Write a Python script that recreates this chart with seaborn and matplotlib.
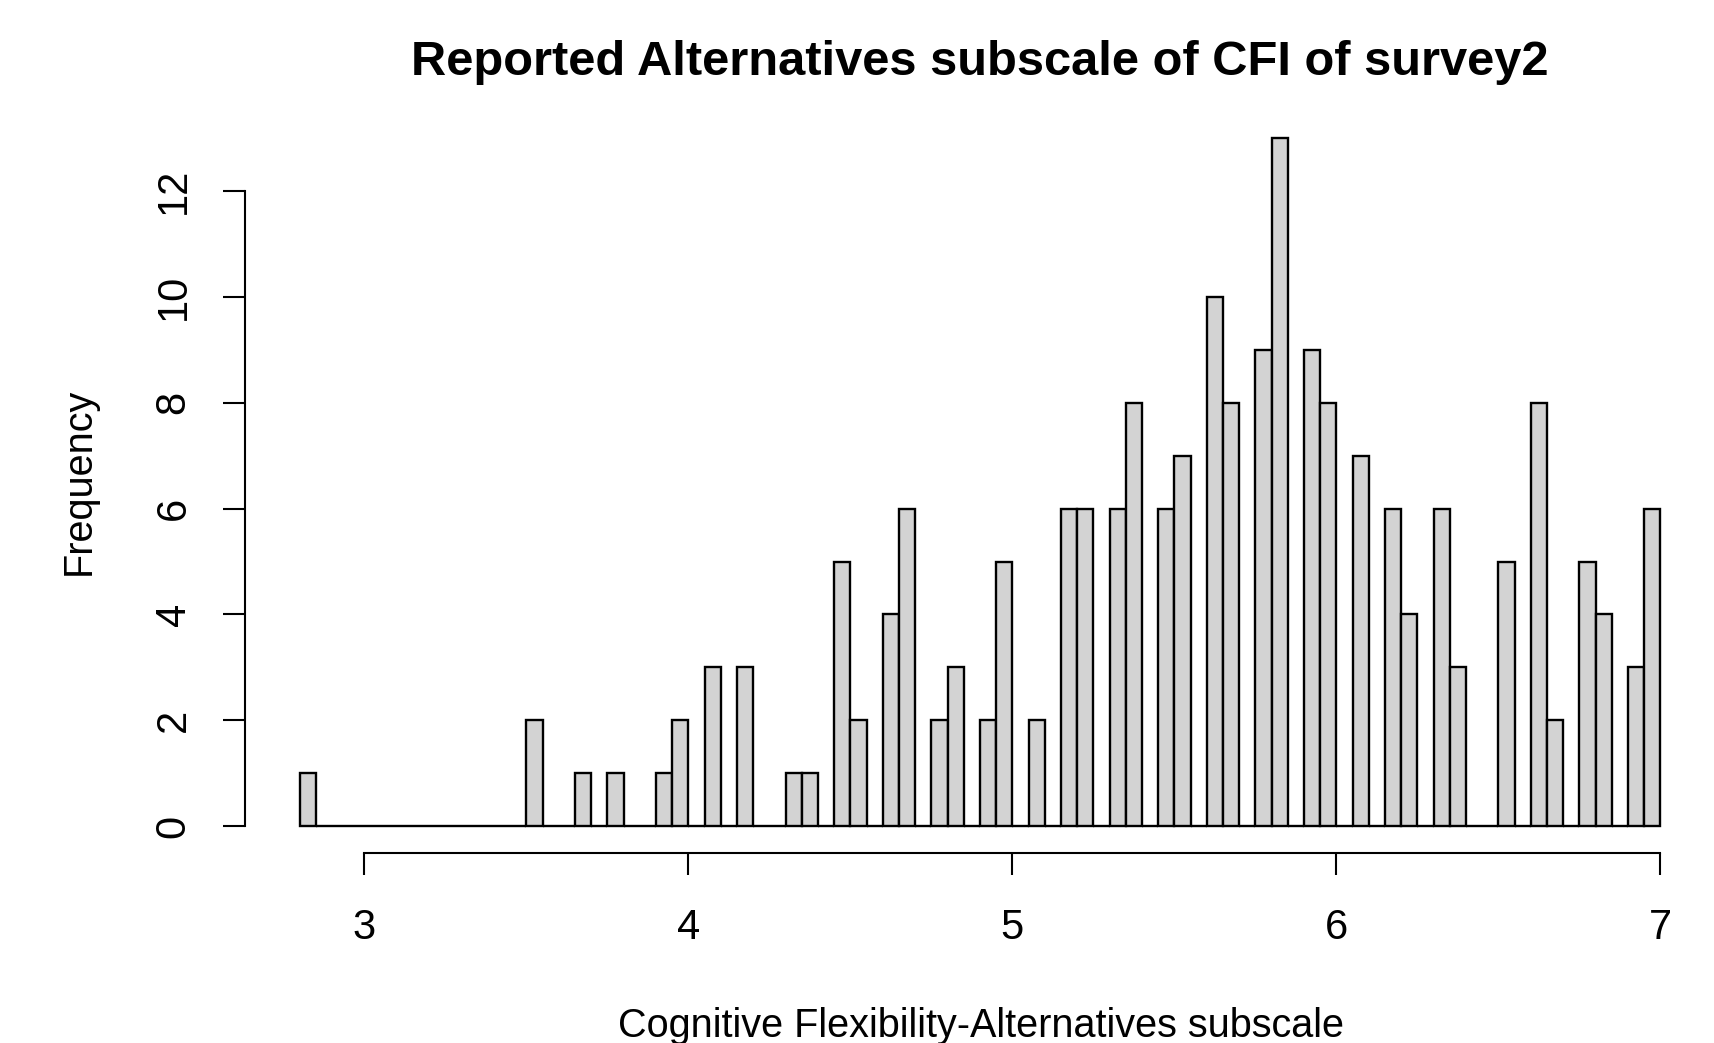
"""Histogram of the CFI Alternatives subscale (survey2), drawn R-style with seaborn."""
import matplotlib
matplotlib.use("Agg")
import matplotlib.pyplot as plt
import numpy as np
import pandas as pd
import seaborn as sns

# bins of width 0.05 from 2.80 to 7.00 (84 bins)
BREAKS = [round(2.80 + 0.05 * i, 2) for i in range(85)]

# counts per bin
COUNTS = [
    1, 0, 0, 0, 0, 0, 0, 0, 0, 0,   # 2.80 - 3.30
    0, 0, 0, 0, 2, 0, 0, 1, 0, 1,   # 3.30 - 3.80
    0, 0, 1, 2, 0, 3, 0, 3, 0, 0,   # 3.80 - 4.30
    1, 1, 0, 5, 2, 0, 4, 6, 0, 2,   # 4.30 - 4.80
    3, 0, 2, 5, 0, 2, 0, 6, 6, 0,   # 4.80 - 5.30
    6, 8, 0, 6, 7, 0, 10, 8, 0, 9,  # 5.30 - 5.80
    13, 0, 9, 8, 0, 7, 0, 6, 4, 0,  # 5.80 - 6.30
    6, 3, 0, 0, 5, 0, 8, 2, 0, 5,   # 6.30 - 6.80
    4, 0, 3, 6,                     # 6.80 - 7.00
]

X_TICKS = [3, 4, 5, 6, 7]
Y_TICKS = [0, 2, 4, 6, 8, 10, 12]

TITLE = "Reported Alternatives subscale of CFI of survey2"
X_LABEL = "Cognitive Flexibility-Alternatives subscale"
Y_LABEL = "Frequency"


def main():
    sns.set_theme(style="ticks")
    plt.rcParams["font.family"] = ["Liberation Sans", "DejaVu Sans"]
    plt.rcParams["axes.edgecolor"] = "black"
    plt.rcParams["text.color"] = "black"
    plt.rcParams["axes.labelcolor"] = "black"
    plt.rcParams["xtick.color"] = "black"
    plt.rcParams["ytick.color"] = "black"

    edges = np.array(BREAKS)
    df = pd.DataFrame({"mid": (edges[:-1] + edges[1:]) / 2, "n": COUNTS})

    fig = plt.figure(figsize=(17.15, 10.43), dpi=100)
    ax = fig.add_axes([0.1429, 0.1817, 0.857, 0.712])

    sns.histplot(
        data=df, x="mid", weights="n", bins=BREAKS, ax=ax,
        color="#d3d3d3", edgecolor="black", linewidth=1.7, alpha=1,
    )

    # R pads the range by 4% on each side
    xr = BREAKS[-1] - BREAKS[0]
    ax.set_xlim(BREAKS[0] - 0.04 * xr, BREAKS[-1] + 0.04 * xr)
    ax.set_ylim(-0.04 * max(COUNTS), max(COUNTS) * 1.04)

    ax.set_xticks(X_TICKS)
    ax.set_yticks(Y_TICKS)
    ax.tick_params(axis="both", length=16, width=1.5, labelsize=30)
    ax.tick_params(axis="x", pad=23)
    ax.tick_params(axis="y", pad=21)
    for lab in ax.get_yticklabels():
        lab.set_rotation(90)
        lab.set_va("center")

    sns.despine(ax=ax)
    ax.spines["left"].set_bounds(Y_TICKS[0], Y_TICKS[-1])
    ax.spines["bottom"].set_bounds(X_TICKS[0], X_TICKS[-1])
    ax.spines["left"].set_linewidth(1.5)
    ax.spines["bottom"].set_linewidth(1.5)

    ax.set_xlabel(X_LABEL, fontsize=28.5)
    ax.set_ylabel(Y_LABEL, fontsize=28.5)
    ax.xaxis.set_label_coords(0.5005, -0.232)
    ax.xaxis.label.set_va("center")
    ax.yaxis.set_label_coords(-0.113, 0.5016)
    ax.yaxis.label.set_va("center")

    ax.set_title(TITLE, fontsize=35.2, fontweight="bold", y=1.0657, pad=0, va="center")

    fig.savefig("out.png", dpi=100)
    plt.close(fig)


if __name__ == "__main__":
    main()
